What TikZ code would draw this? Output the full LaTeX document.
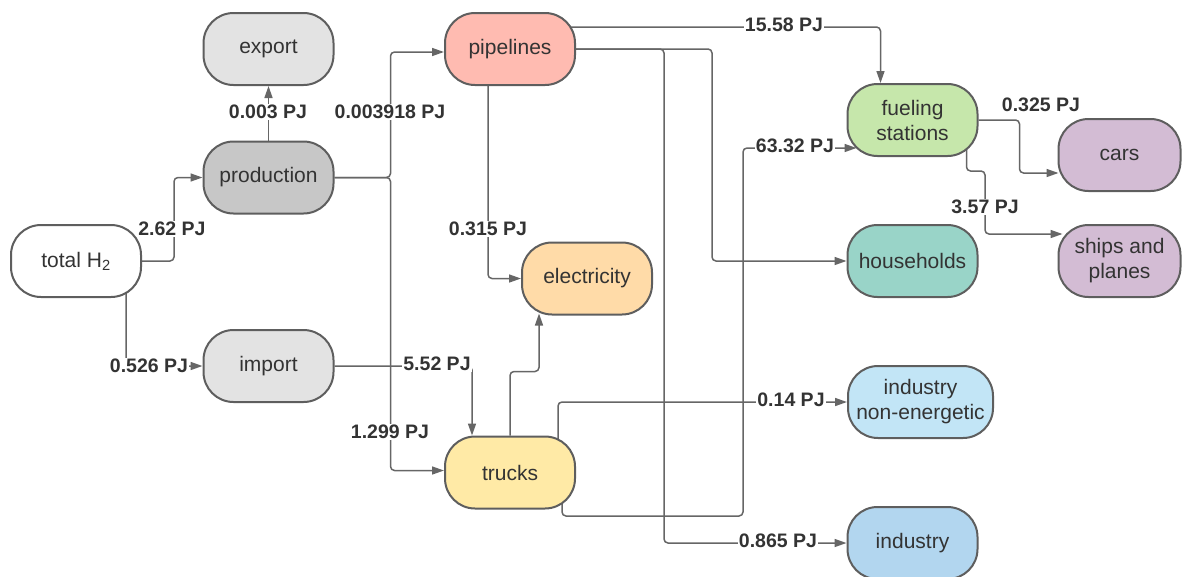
\documentclass[tikz,border=0pt]{standalone}
\usepackage{fontspec}
\setmainfont{Liberation Sans}
\usetikzlibrary{arrows.meta,calc,backgrounds}

\definecolor{edgegray}{HTML}{5E5E5E}
\definecolor{linegray}{HTML}{666666}
\definecolor{textgray}{HTML}{333333}
\definecolor{cexport}{HTML}{E3E3E3}
\definecolor{cprod}{HTML}{C7C7C7}
\definecolor{cpipe}{HTML}{FFBBB1}
\definecolor{celec}{HTML}{FFDBA8}
\definecolor{ctruck}{HTML}{FFEAA6}
\definecolor{cfuel}{HTML}{C6E7AB}
\definecolor{cveh}{HTML}{D3BCD4}
\definecolor{chouse}{HTML}{99D4C8}
\definecolor{cindne}{HTML}{C2E5F6}
\definecolor{cind}{HTML}{B2D6EF}

\begin{document}
\begin{tikzpicture}[x=1pt,y=-1pt,
  box/.style={draw=edgegray, line width=2pt, rounded corners=30pt,
    minimum width=130pt, minimum height=72pt, align=center,
    text=textgray, font=\fontsize{21}{25}\selectfont, inner sep=2pt},
  flow/.style={draw=linegray, line width=1.5pt, rounded corners=4pt,
    -{Triangle[length=12pt,width=8pt]}},
  lbl/.style={fill=white, text=textgray,
    font=\bfseries\fontsize{19.5}{22}\selectfont, inner sep=1pt}]

\useasboundingbox (0,0) rectangle (1182,576);

% stages of the hydrogen chain
\node[box, fill=cexport] (exp)  at (268.5,49)    {export};
\node[box, fill=cprod]   (prod) at (268.5,177.5) {production};
\node[box, fill=white]   (tot)  at (76,261)      {total H\textsubscript{2}};
\node[box, fill=cexport] (imp)  at (268.5,366)   {import};
\node[box, fill=cpipe]   (pipe) at (510,49)      {pipelines};
\node[box, fill=celec]   (elec) at (587,278.5)   {electricity};
\node[box, fill=ctruck]  (trk)  at (510,472.5)   {trucks};
\node[box, fill=cfuel]   (fuel) at (912.5,120)   {fueling\\stations};
\node[box, fill=cveh, minimum width=122pt] (cars)  at (1119.5,155) {cars};
\node[box, fill=cveh, minimum width=122pt] (ships) at (1119.5,261) {ships and\\planes};
\node[box, fill=chouse]  (hh)   at (912.5,261)   {households};
\node[box, fill=cindne, minimum width=145pt] (indne) at (920.5,402) {industry\\non-energetic};
\node[box, fill=cind]    (ind)  at (912.5,543)   {industry};

% energy flows
\begin{pgfonlayer}{background}
\draw[flow] (tot.east) -- ++(32,0) |- (prod.west);
\draw[flow] ($(tot.center)+(50,0)$) |- (imp.west);
\draw[flow] (prod.north) -- (exp.south);
\draw[flow] (prod.east) -- ++(56,0) |- ($(pipe.west)+(0,3)$);
\draw[flow] (prod.east) -- ++(56,0) |- ($(trk.west)+(0,-2)$);
\draw[flow] (imp.east) -| ($(trk.north)+(-38,0)$);
\draw[flow] (trk.north) -- ++(0,-64) -| ($(elec.south)+(-48,-2)$);
\draw[flow] ($(pipe.center)+(-22,0)$) |- (elec.west);
\draw[flow] ($(pipe.center)+(50,-22)$) -| ($(fuel.north)+(-32,0)$);
\draw[flow] (pipe.east) -- ++(136,0) |- (hh.west);
\draw[flow] (pipe.east) -- ++(88,0) |- (ind.west);
\draw[flow] ($(trk.center)+(52,0)$) |- (743,516) |- ($(fuel.center)+(-56,28)$);
\draw[flow] ($(trk.center)+(48,0)$) |- (indne.west);
\draw[flow] (fuel.east) -- ++(41,0) |- ($(cars.west)+(1,18)$);
\draw[flow] ($(fuel.center)+(54,0)$) |- (985,171) |- ($(ships.west)+(5,-27)$);
\end{pgfonlayer}

% flow quantities
\node[lbl] (l1)  at (172,229)  {2.62 PJ};
\node[lbl] (l2)  at (149,366)  {0.526 PJ};
\node[lbl] (l3)  at (268,112)  {0.003 PJ};
\node[lbl] (l4)  at (390,112)  {0.003918 PJ};
\node[lbl] (l5)  at (390,432)  {1.299 PJ};
\node[lbl] (l6)  at (437,364)  {5.52 PJ};
\node[lbl] (l7)  at (488,229)  {0.315 PJ};
\node[lbl] (l8)  at (784,25)   {15.58 PJ};
\node[lbl] (l9)  at (795,146)  {63.32 PJ};
\node[lbl] (l10) at (791,400)  {0.14 PJ};
\node[lbl] (l11) at (778,541)  {0.865 PJ};
\node[lbl] (l12) at (1041,105) {0.325 PJ};
\node[lbl] (l13) at (985,207)  {3.57 PJ};

\end{tikzpicture}
\end{document}
